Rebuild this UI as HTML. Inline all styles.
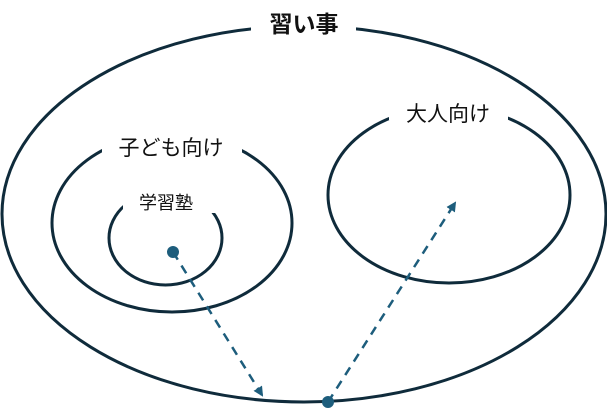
<!DOCTYPE html>
<html><head><meta charset="utf-8"><style>
html,body{margin:0;padding:0;background:#fff;}
svg{display:block;}
text{font-family:"Noto Sans CJK JP",sans-serif;fill:#111;text-anchor:middle;}
</style></head><body>
<svg width="607" height="412" viewBox="0 0 607 412">
<defs>
<marker id="a" markerWidth="10" markerHeight="10" refX="8" refY="5" orient="auto" markerUnits="userSpaceOnUse">
<path d="M0,0 L10,5 L0,10 z" fill="#1d5d7c"/></marker>
</defs>
<g fill="none" stroke="#0f2b3b" stroke-width="3">
<ellipse cx="304" cy="214" rx="302" ry="188"/>
<ellipse cx="172" cy="223" rx="120" ry="89"/>
<ellipse cx="165.5" cy="238" rx="56.5" ry="47"/>
<ellipse cx="449" cy="195" rx="121" ry="88"/>
</g>
<rect x="251" y="6" width="105" height="30" fill="#fff"/>
<rect x="102" y="125" width="140" height="29" fill="#fff"/>
<rect x="123" y="185" width="97" height="28" fill="#fff"/>
<rect x="389" y="90" width="119" height="30" fill="#fff"/>
<text x="304" y="32" font-size="23" font-weight="bold">習い事</text>
<text x="171" y="155" font-size="21">子ども向け</text>
<text x="166" y="209" font-size="18">学習塾</text>
<text x="448" y="121" font-size="21">大人向け</text>
<g stroke="#1d5d7c" stroke-width="2.5" stroke-dasharray="9,7" fill="none">
<line x1="173" y1="252" x2="262" y2="395" marker-end="url(#a)"/>
<line x1="328" y1="402" x2="455" y2="203" marker-end="url(#a)"/>
</g>
<circle cx="173" cy="252" r="6" fill="#1d5d7c"/>
<circle cx="328" cy="402" r="6" fill="#1d5d7c"/>
</svg>
</body></html>
